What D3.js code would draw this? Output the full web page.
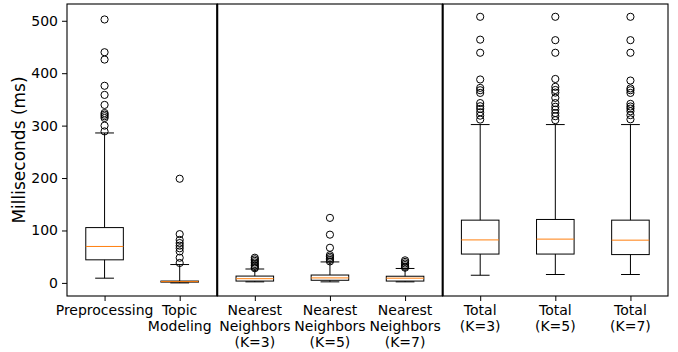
<!DOCTYPE html>
<html><head><meta charset="utf-8">
<script src="https://cdn.jsdelivr.net/npm/d3@7"></script>
<style>body{margin:0;background:#fff}svg{display:block}text{font-family:"DejaVu Sans",sans-serif}</style>
</head><body><svg id="c" width="678" height="352"></svg>
<script>
// ---- data ----
const categories = ["Preprocessing","Topic\nModeling","Nearest\nNeighbors\n(K=3)","Nearest\nNeighbors\n(K=5)","Nearest\nNeighbors\n(K=7)","Total\n(K=3)","Total\n(K=5)","Total\n(K=7)"];
const groups = [0,0,1,1,1,2,2,2];
const q1 = [44, 1.5, 3.5, 5, 3.5, 55, 55, 54];
const median = [69.5, 2.5, 8, 9.5, 9, 82, 83.5, 81.5];
const q3 = [105.5, 3.5, 13, 15, 12.7, 119.7, 121, 119.7];
const whiskerLow = [9, 0, 2, 2, 2, 14.6, 16, 16];
const whiskerHigh = [286, 35, 26.5, 40, 27.5, 302, 302, 302];
const outliers = [
  [502.5, 440, 426, 376, 358.6, 339.5, 324, 321, 318, 314.6, 300, 289],
  [198.7, 93, 82, 76, 71, 66, 60, 48, 38],
  [48, 45, 42, 39, 36, 33, 30, 28],
  [124, 92, 67, 53, 50, 47, 44, 41],
  [43, 40, 37, 34, 31, 29],
  [507.6, 464, 439, 388, 372, 367.5, 362.4, 343, 337, 332, 325.5, 319, 311.5],
  [507.6, 463, 439, 389, 374, 368, 363, 353, 343, 336, 330.5, 324, 318, 310.5],
  [507.6, 463, 439, 386, 371, 367.5, 362.4, 341.5, 336.5, 332.5, 327.5, 320, 312]
];
const yTicks = [0, 100, 200, 300, 400, 500];
const yLabel = "Milliseconds (ms)";

// ---- layout ----
const svg = d3.select("#c");
const L = 67, R = 668, T = 4, B = 296;
const groupSizes = [2, 3, 3];
const total = d3.sum(groupSizes);
const unit = (R - L) / total;
const y = d3.scaleLinear().domain([-25, 532]).range([B, T]);

const groupStart = [0, 2, 5];
const xScales = groupSizes.map((n, g) => d3.scaleLinear().domain([0.5, n + 0.5])
  .range([L + groupStart[g] * unit, L + (groupStart[g] + n) * unit]));
const idxInGroup = categories.map((c, i) => i - groupStart[groups[i]] + 1);
const cx = i => xScales[groups[i]](idxInGroup[i]);
const boxW = unit * 0.5;

// y axis
const yAxis = d3.axisLeft(y).tickValues(yTicks).tickSize(5).tickPadding(4);
const ya = svg.append("g").attr("transform", `translate(${L},0)`).call(yAxis);
ya.select(".domain").remove();
ya.selectAll("text").attr("font-size", 14).attr("fill", "#000");
ya.selectAll("line").attr("stroke", "#000");

svg.append("text").attr("transform", `translate(25,${(T + B) / 2}) rotate(-90)`)
  .attr("text-anchor", "middle").attr("font-size", 17).text(yLabel);

// x axes per group
xScales.forEach((xs, g) => {
  const ticks = d3.range(1, groupSizes[g] + 1);
  const ax = d3.axisBottom(xs).tickValues(ticks).tickSize(5).tickFormat("");
  const a = svg.append("g").attr("transform", `translate(0,${B})`).call(ax);
  a.select(".domain").remove();
  a.selectAll("line").attr("stroke", "#000");
});

// x labels
categories.forEach((c, i) => {
  const t = svg.append("text").attr("x", cx(i)).attr("y", 314.5).attr("text-anchor", "middle").attr("font-size", 14);
  c.split("\n").forEach((line, k) => {
    t.append("tspan").attr("x", cx(i)).attr("dy", k === 0 ? 0 : 16.3).text(line);
  });
});

// boxes
const g = svg.append("g");
categories.forEach((c, i) => {
  const x0 = cx(i);
  g.append("line").attr("x1", x0).attr("x2", x0).attr("y1", y(q3[i])).attr("y2", y(whiskerHigh[i])).attr("stroke", "#000");
  g.append("line").attr("x1", x0).attr("x2", x0).attr("y1", y(q1[i])).attr("y2", y(whiskerLow[i])).attr("stroke", "#000");
  [whiskerHigh[i], whiskerLow[i]].forEach(v => {
    g.append("line").attr("x1", x0 - boxW / 4).attr("x2", x0 + boxW / 4).attr("y1", y(v)).attr("y2", y(v)).attr("stroke", "#000");
  });
  g.append("rect").attr("x", x0 - boxW / 2).attr("width", boxW)
    .attr("y", y(q3[i])).attr("height", Math.max(0.01, y(q1[i]) - y(q3[i])))
    .attr("fill", "none").attr("stroke", "#000");
  g.append("line").attr("x1", x0 - boxW / 2).attr("x2", x0 + boxW / 2).attr("y1", y(median[i])).attr("y2", y(median[i])).attr("stroke", "#ff7f0e");
  outliers[i].forEach(v => {
    g.append("circle").attr("cx", x0).attr("cy", y(v)).attr("r", 3.6).attr("fill", "none").attr("stroke", "#000");
  });
});

// frames (adjacent spines overlap into a thicker divider)
xScales.forEach((xs, k) => {
  const [a, b] = xs.range();
  svg.append("rect").attr("x", a).attr("y", T).attr("width", b - a).attr("height", B - T)
    .attr("fill", "none").attr("stroke", "#000").attr("stroke-width", 1.1);
});
xScales.slice(1).forEach(xs => {
  const a = xs.range()[0];
  svg.append("line").attr("x1", a).attr("x2", a).attr("y1", T).attr("y2", B).attr("stroke", "#000").attr("stroke-width", 2);
});
</script></body></html>
